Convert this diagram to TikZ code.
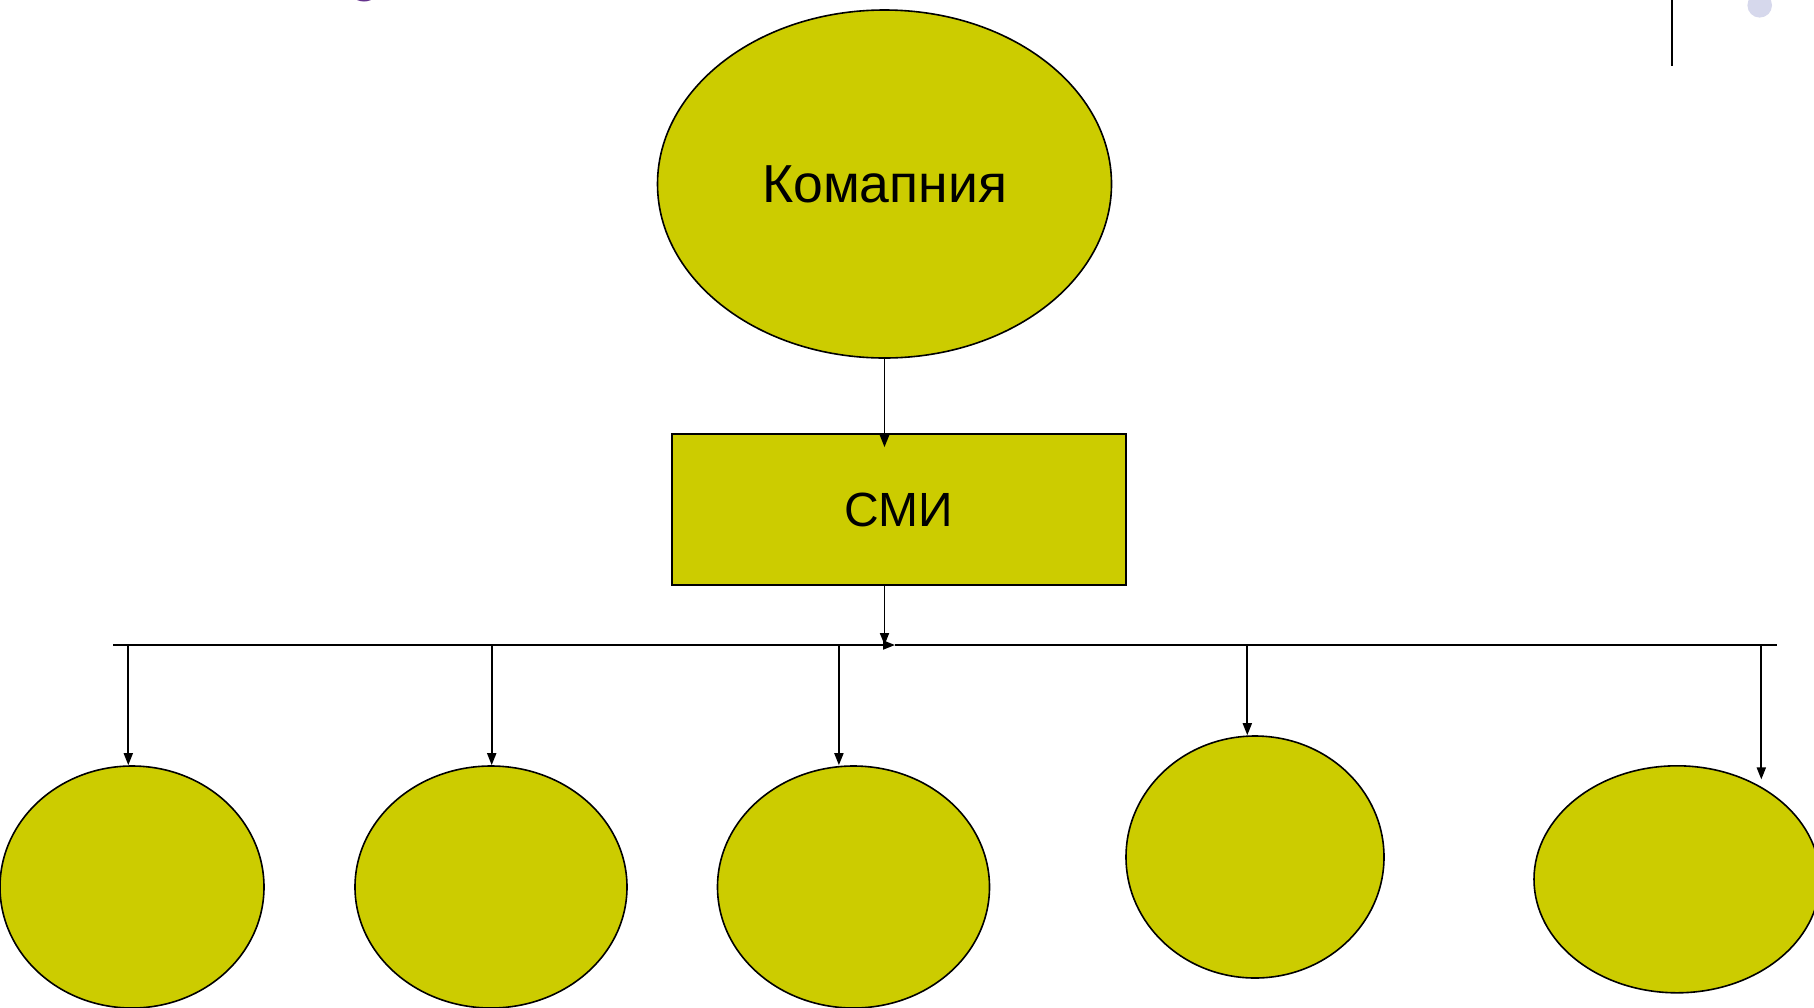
\documentclass[tikz,border=0pt]{standalone}
\usepackage{fontspec}
\setmainfont{Liberation Sans}
\usetikzlibrary{arrows.meta,shapes.geometric,calc}
\definecolor{mustard}{RGB}{204,204,0}
\definecolor{plum}{RGB}{100,50,140}
\definecolor{lavender}{RGB}{214,216,236}
\tikzstyle{blob}=[ellipse,draw,fill=mustard,line width=1.6pt,inner sep=0pt]
\tikzstyle{box}=[rectangle,draw,fill=mustard,line width=1.6pt,inner sep=0pt]
\tikzstyle{link} = [draw,line width=1.8pt,-{Triangle[length=12pt,width=9pt]}]
\tikzstyle{bigtext} = [font=\fontsize{53.5}{60}\selectfont]

\begin{document}
\begin{tikzpicture}[x=1pt,y=-1pt]
	\useasboundingbox (0,0) rectangle (1814,1007);
	% bits cut off at the top edge
	\fill[plum] (364,-15.5) circle[radius=17pt];
	\draw[line width=2pt] (1671.7,0) -- (1671.7,65.7);
	\fill[lavender] (1759.7,5.3) circle[radius=12.3pt];

	% First the company and the media box
	\node[blob,bigtext,minimum width=454,minimum height=348] (company) at (884.5,184) {Комапния};
	\node[box,font=\fontsize{48}{56}\selectfont,minimum width=454,minimum height=151] (media) at (899,509.5) {СМИ};

	% the bottom row of ellipses
	\foreach \pos/\name/\w/\h in {{(132,887)/c1/264/242}, {(491,887)/c2/272/242}, {(853.5,887)/c3/272/242}, {(1255,857)/c4/258/242}, {(1677,879.3)/c5/286/227}}
	\node[blob,minimum width=\w,minimum height=\h] (\name) at \pos {};

	% the bus line
	\coordinate (busL) at (113.3,645);
	\coordinate (busR) at (1776.7,645);
	\coordinate (busA) at (895,645);
	\coordinate (busM) at (company.south |- busL);
	\foreach \name/\x in {b1/128.3, b2/491.7, b3/838.9, b4/1247.3, b5/1761.3}
	\coordinate (\name) at (\x,645);

	% Connect everything with arrows
	\path[link] (company.south) -- ($(company.south |- media.north)+(0,14)$);
	\path[link] (company.south |- media.south) -- (busM);
	\path[link] (busL) -- (busA);
	\path[draw,line width=1.8pt] (busA) -- (busR);

	\foreach \b/\c in {b1/c1, b2/c2, b3/c3, b4/c4}
	\path[link] (\b) -- (\b |- \c.north);
	\path[link] (b5) -- (b5 |- c5.55);
\end{tikzpicture}
\end{document}
